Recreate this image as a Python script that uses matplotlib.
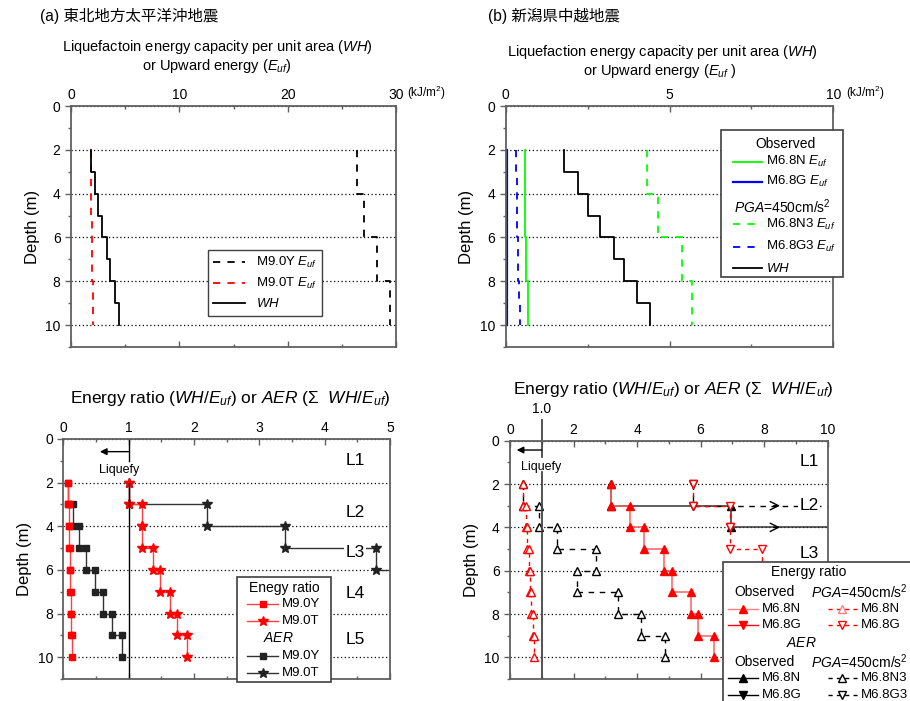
import matplotlib
matplotlib.use('Agg')
import matplotlib.pyplot as plt
from matplotlib.lines import Line2D
from matplotlib.patches import Rectangle
from matplotlib.ticker import MultipleLocator

plt.rcParams['font.family'] = ['Liberation Sans', 'Noto Sans CJK JP', 'DejaVu Sans']
plt.rcParams['mathtext.fontset'] = 'custom'
plt.rcParams['mathtext.rm'] = 'Liberation Sans'
plt.rcParams['mathtext.it'] = 'Liberation Sans:italic'
plt.rcParams['mathtext.bf'] = 'Liberation Sans:bold'

W, H = 910, 701

# top of each 1 m layer (m)
tops = [2, 3, 4, 5, 6, 7, 8, 9]

# (a) energies, kJ/m2
wh_a = [1.82, 2.25, 2.46, 2.89, 3.30, 3.63, 4.06, 4.43]
euf_m90y = [26.4, 26.4, 27.05, 27.05, 28.25, 28.25, 29.45, 29.45]
euf_m90t = [1.82, 1.84, 1.88, 1.92, 1.95, 1.98, 2.02, 2.05]

# (b) energies, kJ/m2
wh_b = [1.79, 2.22, 2.50, 2.89, 3.30, 3.60, 4.00, 4.40]
euf_n = [0.59, 0.59, 0.59, 0.59, 0.62, 0.62, 0.68, 0.68]
euf_g = [0.05, 0.05, 0.05, 0.05, 0.05, 0.05, 0.05, 0.05]
euf_n3 = [4.32, 4.32, 4.64, 4.64, 5.37, 5.37, 5.68, 5.68]
euf_g3 = [0.31, 0.33, 0.34, 0.36, 0.37, 0.39, 0.41, 0.43]

# (a) energy ratio and AER
er_m90y = [0.07, 0.08, 0.09, 0.10, 0.11, 0.12, 0.125, 0.13]
er_m90t = [1.0, 1.2, 1.2, 1.37, 1.475, 1.64, 1.745, 1.9]
aer_m90y = [0.07, 0.155, 0.245, 0.353, 0.48, 0.608, 0.75, 0.90]
aer_m90t = [1.0, 2.2, 3.4, 4.79, 6.27, 7.91, 9.66, 11.56]

# (b) energy ratio and AER
er_n_obs = [3.17, 3.78, 4.23, 4.84, 5.11, 5.70, 5.91, 6.42]
er_n_pga = [0.42, 0.49, 0.55, 0.61, 0.63, 0.65, 0.71, 0.77]
er_g_pga = [5.77, 6.92, 6.92, 7.92, 8.9, 9.2, 9.76, 10.2]
aer_n_obs = [3.17, 6.95, 11.18, 16.02, 21.13, 26.83, 32.74, 39.16]
aer_n3_pga = [0.42, 0.92, 1.47, 2.71, 2.10, 3.41, 4.11, 4.88]
aer_g3_pga = [5.77, 12.69, 19.61, 27.53, 36.4, 45.6, 55.4, 65.6]

GREY = '#606060'


def steps(vals):
    xs, ys = [], []
    for t, v in zip(tops, vals):
        xs += [v, v]
        ys += [t, t + 1]
    return xs, ys


def px_axes(x0, y0, x1, y1):
    return fig.add_axes([x0 / W, 1 - y1 / H, (x1 - x0) / W, (y1 - y0) / H])


def style(ax, xmax, xmaj, xmin):
    ax.set_xlim(0, xmax)
    ax.set_ylim(11, 0)
    ax.xaxis.set_major_locator(MultipleLocator(xmaj))
    ax.xaxis.set_minor_locator(MultipleLocator(xmin))
    ax.yaxis.set_major_locator(MultipleLocator(2))
    ax.yaxis.set_minor_locator(MultipleLocator(1))
    ax.tick_params(axis='x', which='both', direction='in', top=True, bottom=True,
                   labeltop=True, labelbottom=False, color=GREY, labelsize=10, pad=3)
    ax.tick_params(axis='y', which='both', direction='out', color=GREY, labelsize=10)
    ax.tick_params(which='major', length=4, width=1)
    ax.tick_params(which='minor', length=2.5, width=1)
    for s in ax.spines.values():
        s.set_color(GREY)
        s.set_linewidth(1.3)
    ax.grid(axis='y', which='major', linestyle=(0, (1, 2)), color='k', lw=0.9)
    ax.set_ylabel('Depth (m)', fontsize=12, labelpad=4)


def ftext(x, y, s, ha='center', **kw):
    fig.text(x / W, 1 - y / H, s, ha=ha, va='center', zorder=7, **kw)


def fbox(x0, y0, x1, y1):
    fig.add_artist(Rectangle((x0 / W, 1 - y1 / H), (x1 - x0) / W, (y1 - y0) / H,
                             transform=fig.transFigure, facecolor='white',
                             edgecolor='#404040', lw=1.2, zorder=5))


def fentry(x0, x1, y, label, **kw):
    xm = (x0 + x1) / 2
    fig.add_artist(Line2D([x0 / W, xm / W, x1 / W], [1 - y / H] * 3,
                          transform=fig.transFigure, markevery=[1], zorder=6, **kw))
    ftext(x1 + 4, y, label, ha='left', fontsize=9.5)


fig = plt.figure(figsize=(W / 100, H / 100), dpi=100)

# ---------------- (a) top
ax = px_axes(71, 106, 396, 347)
style(ax, 30, 10, 5)
x, y = steps(euf_m90y)
ax.plot(x, y, color='k', ls=(0, (4, 4)), lw=1.3, label='M9.0Y $E_{uf}$')
x, y = steps(euf_m90t)
ax.plot(x, y, color='red', ls=(0, (4, 4)), lw=1.3, label='M9.0T $E_{uf}$')
x, y = steps(wh_a)
ax.plot(x, y, color='k', lw=1.3, label='$WH$')
ax.legend(loc='upper left', bbox_to_anchor=((208 - 71) / 325, 1 - (250 - 106) / 241),
          borderaxespad=0, fancybox=False, edgecolor='#404040', framealpha=1,
          fontsize=9.5, handlelength=2.4, labelspacing=0.45)

ftext(40, 16, '(a) 東北地方太平洋沖地震', ha='left', fontsize=11.2)
ftext(217, 47, 'Liquefactoin energy capacity per unit area ($WH$)', fontsize=10.5)
ftext(217, 66, 'or Upward energy ($E_{uf}$)', fontsize=10.5)
ftext(407, 93, '(kJ/m$^2$)', ha='left', fontsize=8.5)

# ---------------- (b) top
ax = px_axes(505.7, 106, 833.3, 347)
style(ax, 10, 5, 2.5)
x, y = steps(euf_g)
ax.plot(x, y, color='#0000ff', lw=1.6)
x, y = steps(euf_g3)
ax.plot(x, y, color='#0000ff', ls=(0, (4, 4)), lw=1.3)
x, y = steps(euf_n)
ax.plot(x, y, color='#00ff00', lw=1.3)
x, y = steps(euf_n3)
ax.plot(x, y, color='#00ff00', ls=(0, (4, 4)), lw=1.3)
x, y = steps(wh_b)
ax.plot(x, y, color='k', lw=1.3)

ftext(488, 16, '(b) 新潟県中越地震', ha='left', fontsize=11.2)
ftext(662, 52, 'Liquefaction energy capacity per unit area ($WH$)', fontsize=10.5)
ftext(660, 71, 'or Upward energy ($E_{uf}$ )', fontsize=10.5)
ftext(846, 93, '(kJ/m$^2$)', ha='left', fontsize=8.5)

fbox(720.7, 130, 842.7, 277)
ftext(785, 143.5, 'Observed', fontsize=10)
fentry(732.7, 761.7, 161.7, 'M6.8N $E_{uf}$', color='#00ff00', lw=1.3)
fentry(732.7, 761.7, 181.7, 'M6.8G $E_{uf}$', color='#0000ff', lw=1.6)
ftext(782.5, 206.7, '$PGA$=450cm/s$^2$', fontsize=10)
fentry(732.7, 761.7, 224, 'M6.8N3 $E_{uf}$', color='#00ff00', lw=1.3, ls=(0, (4, 4)))
fentry(732.7, 761.7, 246.7, 'M6.8G3 $E_{uf}$', color='#0000ff', lw=1.3, ls=(0, (4, 4)))
fentry(732.7, 761.7, 268.3, '$WH$', color='k', lw=1.3)

# ---------------- (a) bottom
ax = px_axes(63.3, 439, 390, 679)
style(ax, 5, 1, 0.5)
x, y = steps(aer_m90y)
ax.plot(x, y, color='#333333', lw=1, marker='s', ms=5, mfc='#222222', mec='#222222')
x, y = steps(aer_m90t)
ax.plot(x, y, color='#333333', lw=1, marker='*', ms=7, mfc='#222222', mec='#222222')
x, y = steps(er_m90y)
ax.plot(x, y, color='#ff4040', lw=1, marker='s', ms=5, mfc='red', mec='red')
x, y = steps(er_m90t)
ax.plot(x, y, color='#ff4040', lw=1, marker='*', ms=7, mfc='red', mec='red')

ax.plot([1, 1], [0, 1.0], color='k', lw=1)
ax.plot([1, 1], [2, 11], color='k', lw=1)
ax.annotate('', xy=(0.56, 0.58), xytext=(1.0, 0.58),
            arrowprops=dict(arrowstyle='-|>', color='k', lw=1, mutation_scale=10, shrinkA=0, shrinkB=0))
ax.text(0.86, 1.42, 'Liquefy', ha='center', va='center', fontsize=9)
for lab, d in zip(['L1', 'L2', 'L3', 'L4', 'L5'], [1.0, 3.35, 5.2, 7.1, 9.2]):
    ax.text(4.47, d, lab, ha='center', va='center', fontsize=12.5,
            bbox=dict(fc='white', ec='none', pad=1))

ftext(230, 398, 'Energy ratio ($WH$/$E_{uf}$) or $AER$ (Σ  $WH$/$E_{uf}$)', fontsize=12.5)

fbox(236.7, 576.7, 331, 681.7)
ftext(284, 588, 'Enegy ratio', fontsize=10)
fentry(247.3, 277.7, 604, 'M9.0Y', color='#ff4040', lw=1, marker='s', ms=5, mfc='red', mec='red')
fentry(247.3, 277.7, 620.7, 'M9.0T', color='#ff4040', lw=1, marker='*', ms=7, mfc='red', mec='red')
ftext(278, 638.3, '$AER$', fontsize=10)
fentry(247.3, 277.7, 656, 'M9.0Y', color='#333333', lw=1, marker='s', ms=5, mfc='#222222', mec='#222222')
fentry(247.3, 277.7, 673.3, 'M9.0T', color='#333333', lw=1, marker='*', ms=7, mfc='#222222', mec='#222222')

# ---------------- (b) bottom
ax = px_axes(510, 440.7, 827.7, 679)
style(ax, 10, 2, 1)
x, y = steps(aer_n_obs)
ax.plot(x, y, color='#333333', lw=1.1, marker='^', ms=6, mfc='k', mec='k')
x, y = steps(aer_n3_pga)
ax.plot(x, y, color='k', lw=1, ls=(0, (4, 4)), marker='^', ms=6, mfc='white', mec='k')
x, y = steps(aer_g3_pga)
ax.plot(x, y, color='k', lw=1, ls=(0, (4, 4)), marker='v', ms=6, mfc='white', mec='k')
x, y = steps(er_n_obs)
ax.plot(x, y, color='#ff6060', lw=1.1, marker='^', ms=6, mfc='red', mec='red')
x, y = steps(er_n_pga)
ax.plot(x, y, color='red', lw=1, ls=(0, (3, 3)), marker='^', ms=6, mfc='white', mec='red')
x, y = steps(er_g_pga)
ax.plot(x, y, color='red', lw=1, ls=(0, (3, 3)), marker='v', ms=6, mfc='white', mec='red')

ax.annotate('', xy=(8.5, 3), xytext=(8.3, 3),
            arrowprops=dict(arrowstyle='->,head_length=0.6,head_width=0.3', color='k', lw=1, shrinkA=0, shrinkB=0))
ax.annotate('', xy=(8.5, 4), xytext=(8.3, 4),
            arrowprops=dict(arrowstyle='->,head_length=0.6,head_width=0.3', color='k', lw=1, shrinkA=0, shrinkB=0))
ax.plot([1, 1], [-0.95, 0.75], color='#444444', lw=1.3, clip_on=False)
ax.plot([1, 1], [1.45, 11], color='#444444', lw=1.3)
ax.annotate('', xy=(0.21, 0.43), xytext=(1.0, 0.43),
            arrowprops=dict(arrowstyle='-|>', color='k', lw=1, mutation_scale=10, shrinkA=0, shrinkB=0))
ax.text(0.97, 1.23, 'Liquefy', ha='center', va='center', fontsize=9)
ax.text(1.0, -1.45, '1.0', ha='center', va='center', fontsize=10)
for lab, d in zip(['L1', 'L2', 'L3'], [0.97, 3.0, 5.2]):
    ax.text(9.42, d, lab, ha='center', va='center', fontsize=12.5,
            bbox=dict(fc='white', ec='none', pad=1))

ftext(673, 389, 'Energy ratio ($WH$/$E_{uf}$) or $AER$ (Σ  $WH$/$E_{uf}$)', fontsize=12.5)

fbox(723.3, 561.7, 915, 705)
ftext(808.3, 571.7, 'Energy ratio', fontsize=10)
ftext(764.3, 591.7, 'Observed', fontsize=10)
ftext(859, 591.7, '$PGA$=450cm/s$^2$', fontsize=10)
fentry(728.3, 758.3, 609.3, 'M6.8N', color='#ff8080', lw=1, marker='^', ms=6, mfc='red', mec='red')
fentry(728.3, 758.3, 625.3, 'M6.8G', color='red', lw=1, marker='v', ms=6, mfc='red', mec='red')
fentry(827.7, 856.7, 609.3, 'M6.8N', color='red', lw=1, ls=(0, (3, 3)), marker='^', ms=6, mfc='white', mec='#ff8080')
fentry(827.7, 856.7, 625.3, 'M6.8G', color='red', lw=1, ls=(0, (3, 3)), marker='v', ms=6, mfc='white', mec='red')
ftext(801.7, 642.7, '$AER$', fontsize=10)
ftext(764.3, 661.7, 'Observed', fontsize=10)
ftext(859, 661.7, '$PGA$=450cm/s$^2$', fontsize=10)
fentry(728.3, 758.3, 678.3, 'M6.8N', color='k', lw=1, marker='^', ms=6, mfc='k', mec='k')
fentry(728.3, 758.3, 695, 'M6.8G', color='k', lw=1, marker='v', ms=6, mfc='k', mec='k')
fentry(827.7, 856.7, 678.3, 'M6.8N3', color='k', lw=1, ls=(0, (3, 3)), marker='^', ms=6, mfc='white', mec='k')
fentry(827.7, 856.7, 695, 'M6.8G3', color='k', lw=1, ls=(0, (3, 3)), marker='v', ms=6, mfc='white', mec='k')

fig.savefig('out.png', dpi=100)
